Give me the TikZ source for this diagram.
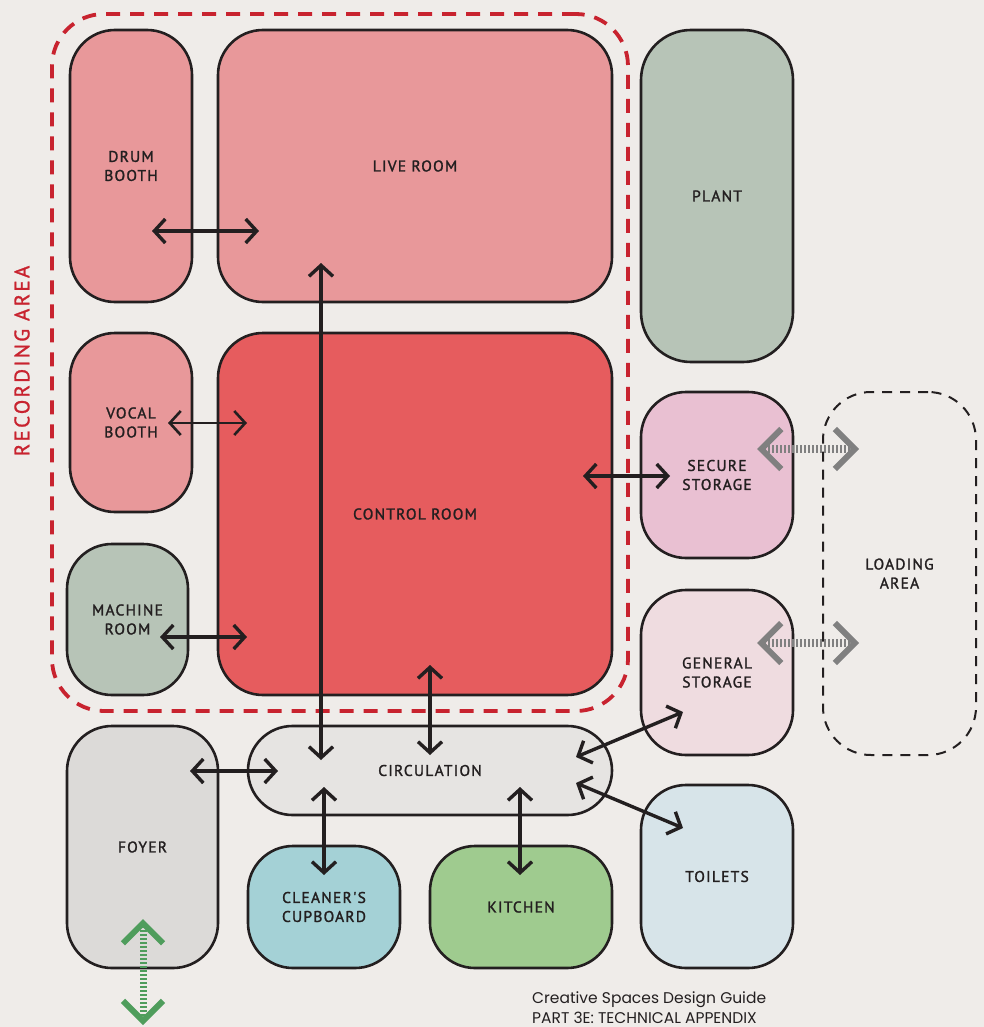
\documentclass[tikz,border=0pt]{standalone}
\usepackage{fontspec}
\setmainfont{PT Sans}
\newfontfamily\labelfont[LetterSpace=8,FakeBold=1.6]{PT Sans}
\newfontfamily\recfont[LetterSpace=11,FakeBold=1.2]{PT Sans}
\newfontfamily\footfont{Poppins}
\usetikzlibrary{arrows.meta,calc}
\definecolor{bgcol}{HTML}{EFECE9}
\definecolor{roompink}{HTML}{E8989A}
\definecolor{ctrlred}{HTML}{E65C5E}
\definecolor{sage}{HTML}{B7C4B7}
\definecolor{securepink}{HTML}{E9C0D2}
\definecolor{genpink}{HTML}{EFDCE0}
\definecolor{foyergrey}{HTML}{DCDAD8}
\definecolor{circgrey}{HTML}{E6E4E2}
\definecolor{teal}{HTML}{A4D1D6}
\definecolor{kitgreen}{HTML}{9FCB8F}
\definecolor{toiletblue}{HTML}{D7E4E9}
\definecolor{recred}{HTML}{C8232F}
\definecolor{inkcol}{HTML}{231F20}
\definecolor{greyarrow}{HTML}{808080}
\definecolor{greenarrow}{HTML}{4F9D5C}
\tikzset{
  room/.style={draw=inkcol, line width=2.6pt, rounded corners=#1, inner sep=0pt, align=center,
    text=inkcol, font=\labelfont\fontsize{15.5}{19}\selectfont},
  room/.default=45pt,
  conn/.style={draw=inkcol, line width=3.4pt,
    {Straight Barb[length=11pt,width=24pt]}-{Straight Barb[length=11pt,width=24pt]}},
  thinconn/.style={conn, line width=2.6pt},
  hatch/.style={draw=#1, line width=8pt, dash pattern=on 2.2pt off 1.8pt,
    {Straight Barb[length=20pt,width=40pt,line width=6pt]}-{Straight Barb[length=20pt,width=40pt,line width=6pt]}},
}
\begin{document}
\begin{tikzpicture}[x=1pt,y=-1pt]
\fill[bgcol] (0,0) rectangle (984,1027);
\useasboundingbox (0,0) rectangle (984,1027);

% recording area
\node[draw=recred, line width=3.8pt, dash pattern=on 14pt off 10pt, rounded corners=52pt,
  minimum width=576pt, minimum height=697pt] (rec) at (340,362.5) {};
\node[rotate=90, text=recred, font=\recfont\fontsize{21}{24}\selectfont] (reclabel) at (22,361) {RECORDING AREA};

% rooms
\node[room, fill=roompink, minimum width=122pt, minimum height=272pt] (drum) at (131,166) {DRUM\\BOOTH};
\node[room, fill=roompink, minimum width=394pt, minimum height=272pt] (live) at (415,166) {LIVE ROOM};
\node[room=50pt, fill=sage, minimum width=152pt, minimum height=332pt] (plant) at (717,196) {PLANT};
\node[room, fill=roompink, minimum width=122pt, minimum height=179pt] (vocal) at (131,422.5) {VOCAL\\BOOTH};
\node[room, fill=ctrlred, minimum width=394pt, minimum height=362pt] (control) at (415,514) {CONTROL ROOM};
\node[room, fill=sage, minimum width=121pt, minimum height=151pt] (machine) at (127.5,619.5) {MACHINE\\ROOM};
\node[room, fill=securepink, minimum width=152pt, minimum height=166pt] (secure) at (717,475) {SECURE\\STORAGE};
\node[room, fill=genpink, minimum width=152pt, minimum height=165pt] (general) at (717,672.5) {GENERAL\\STORAGE};
\node[room=48pt, draw=inkcol, line width=2pt, dash pattern=on 10pt off 8pt, minimum width=153pt, minimum height=363pt] (loading) at (899.5,573.5) {LOADING\\AREA};
\node[room, fill=foyergrey, minimum width=151pt, minimum height=242pt] (foyer) at (142.5,847) {FOYER};
\node[room=44.5pt, fill=circgrey, minimum width=364pt, minimum height=89pt] (circ) at (430,770.5) {\raisebox{-3pt}{CIRCULATION}};
\node[room, fill=teal, minimum width=152pt, minimum height=122pt] (cleaner) at (324,907) {CLEANER'S\\CUPBOARD};
\node[room, fill=kitgreen, minimum width=182pt, minimum height=122pt] (kitchen) at (521,907) {KITCHEN};
\node[room, fill=toiletblue, minimum width=152pt, minimum height=183pt] (toilets) at (717,876.5) {TOILETS};

% connector end points
\coordinate (dL) at (152,231);  \coordinate (lD) at (259,231);
\coordinate (lC) at (321,263);  \coordinate (cL) at (321,760);
\coordinate (vC) at (168,423);  \coordinate (cV) at (247,423);
\coordinate (mC) at (160,637);  \coordinate (cM) at (247,637);
\coordinate (cS) at (583,476);  \coordinate (sC) at (670,476);
\coordinate (crC) at (430,665); \coordinate (ccR) at (430,755);
\coordinate (ciG) at (576,757); \coordinate (gCi) at (683,712);
\coordinate (ciT) at (576,783); \coordinate (tCi) at (683,828);
\coordinate (fC) at (190,771);  \coordinate (cF) at (278,771);
\coordinate (ciK) at (324,787); \coordinate (kCi) at (324,875);
\coordinate (ciKi) at (520,787); \coordinate (kiCi) at (520,875);
\coordinate (sLd) at (757,449); \coordinate (lSd) at (859,449);
\coordinate (gLd) at (757,643); \coordinate (lGd) at (859,643);
\coordinate (fIn) at (143,919); \coordinate (fOut) at (143,1025);

% connectors
\draw[conn] (dL) -- (lD);
\draw[conn] (lC) -- (cL);
\draw[thinconn] (vC) -- (cV);
\draw[conn] (mC) -- (cM);
\draw[conn] (cS) -- (sC);
\draw[conn] (crC) -- (ccR);
\draw[conn] (ciG) -- (gCi);
\draw[conn] (ciT) -- (tCi);
\draw[conn] (fC) -- (cF);
\draw[conn] (ciK) -- (kCi);
\draw[conn] (ciKi) -- (kiCi);
\draw[hatch=greyarrow] (sLd) -- (lSd);
\draw[hatch=greyarrow] (gLd) -- (lGd);
\draw[hatch=greenarrow, line width=7pt] (fIn) -- (fOut);

% footer
\node[anchor=north west, align=left, inner sep=0pt, text=inkcol,
  font=\footfont\fontsize{15.5}{20}\selectfont] (foot) at (532,991)
  {Creative Spaces Design Guide\\PART 3E: TECHNICAL APPENDIX};
\end{tikzpicture}
\end{document}
